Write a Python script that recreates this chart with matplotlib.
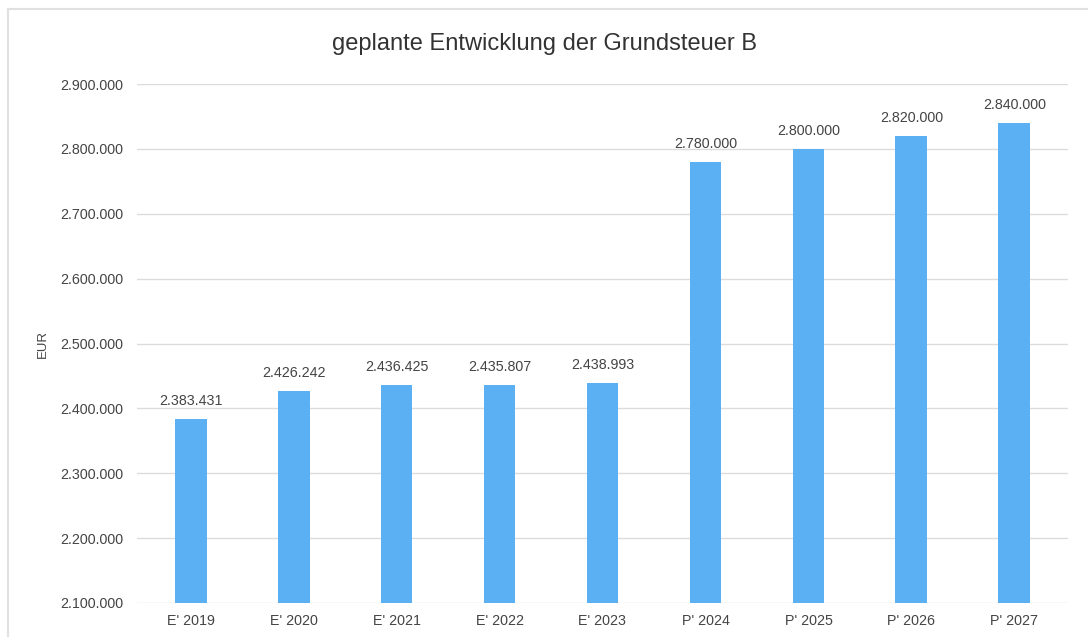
import matplotlib
matplotlib.use("Agg")
import matplotlib.pyplot as plt
from matplotlib.ticker import FuncFormatter
from matplotlib.lines import Line2D

categories = ["E' 2019", "E' 2020", "E' 2021", "E' 2022", "E' 2023",
              "P' 2024", "P' 2025", "P' 2026", "P' 2027"]
values = [2383431, 2426242, 2436425, 2435807, 2438993,
          2780000, 2800000, 2820000, 2840000]
yticks = [2100000, 2200000, 2300000, 2400000, 2500000,
          2600000, 2700000, 2800000, 2900000]

plt.rcParams['font.family'] = ['Liberation Sans', 'DejaVu Sans']

def de_fmt(v, pos=None):
    return f"{int(round(v)):,}".replace(",", ".")

fig = plt.figure(figsize=(10.88, 6.37), dpi=100)
ax = fig.add_axes([137/1088, 1-603/637, (1068-137)/1088, (603-84)/637])

x = list(range(len(categories)))
ax.bar(x, values, width=0.31, color="#5AB0F2", zorder=3)
ax.set_xlim(-0.52, len(categories) - 0.48)
ax.set_ylim(2100000, 2900000)
ax.set_yticks(yticks)
ax.yaxis.set_major_formatter(FuncFormatter(de_fmt))
ax.set_xticks(x)
ax.set_xticklabels(categories)
ax.grid(axis='y', color="#dcdcdc", linewidth=1.0, zorder=0)
for s in ax.spines.values():
    s.set_visible(False)
ax.tick_params(axis='both', length=0, labelsize=10.3, colors="#444444")
ax.tick_params(axis='y', pad=10)
ax.tick_params(axis='x', pad=8)

for xi, v in zip(x, values):
    ax.annotate(de_fmt(v), (xi, v), xytext=(0, 8), textcoords='offset points',
                ha='center', va='bottom', fontsize=10.3, color="#444444")

ax.set_ylabel("EUR", fontsize=9.5, color="#444444", labelpad=8)
fig.text(0.5, 1-44/637, "geplante Entwicklung der Grundsteuer B", ha='center',
         va='center', fontsize=17, color="#333333")

# light frame
fig.add_artist(Line2D([8/1088, 8/1088], [0, 1-9/637], transform=fig.transFigure,
                      color="#e0e0e0", linewidth=1.5))
fig.add_artist(Line2D([8/1088, 1], [1-9/637, 1-9/637], transform=fig.transFigure,
                      color="#e0e0e0", linewidth=1.5))

fig.savefig("out.png", dpi=100)
